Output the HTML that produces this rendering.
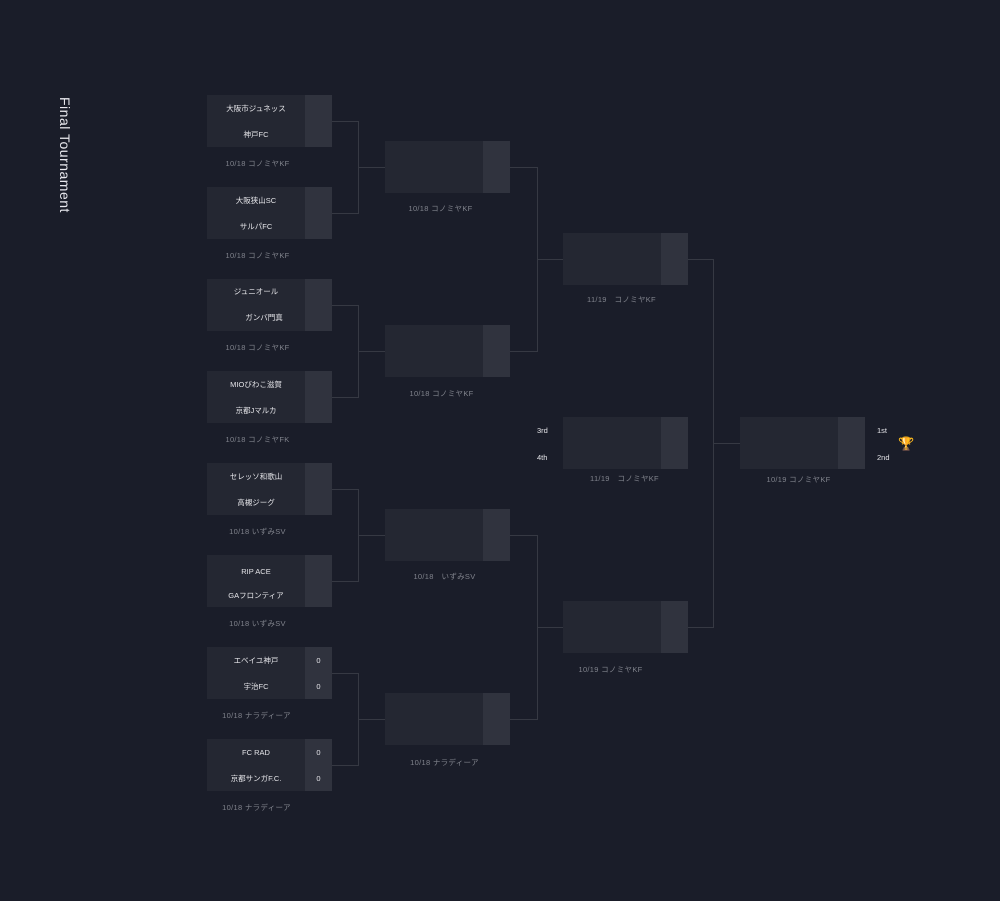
<!DOCTYPE html>
<html><head><meta charset="utf-8"><style>
body{margin:0;width:1000px;height:901px;background:#1a1d29;position:relative;overflow:hidden;font-family:"Liberation Sans","Noto Sans CJK JP",sans-serif}
.b{position:absolute;width:125px;height:52px;background:#242732}
.b .s{position:absolute;right:0;top:0;width:27px;height:52px;background:#30333e}
.t{position:absolute;left:0;width:98px;text-align:center;color:#e4e4e8;font-size:7.5px;line-height:10px}
.sc{position:absolute;left:98px;width:27px;text-align:center;color:#e4e4e8;font-size:7.5px;line-height:10px}
.l{position:absolute;width:125px;text-align:center;color:#80838c;font-size:7.5px;line-height:10px;letter-spacing:.3px}
.p{position:absolute;color:#e4e4e8;font-size:7.5px;line-height:10px}
#title{position:absolute;left:57px;top:97px;color:#e8e8ee;font-size:14px;line-height:15px;letter-spacing:0.5px;transform-origin:0 0;transform:translate(15px,0) rotate(90deg);white-space:nowrap}
</style></head><body>
<div id="title">Final Tournament</div>
<svg width="1000" height="901" style="position:absolute;left:0;top:0" fill="none" stroke="#363943" stroke-width="1">
<path d="M332 121.5H358.5V213.5H332M358.5 167.5H385"/>
<path d="M332 305.5H358.5V397.5H332M358.5 351.5H385"/>
<path d="M332 489.5H358.5V581.5H332M358.5 535.5H385"/>
<path d="M332 673.5H358.5V765.5H332M358.5 719.5H385"/>
<path d="M510 167.5H537.5V351.5H510M537.5 259.5H563"/>
<path d="M510 535.5H537.5V719.5H510M537.5 627.5H563"/>
<path d="M688 259.5H713.5V627.5H688M713.5 443.5H740"/>
</svg>

<div class="b" style="left:207px;top:95px"><div class="s"></div><div class="t" style="top:9px">大阪市ジュネッス</div><div class="t" style="top:35px">神戸FC</div></div>
<div class="l" style="left:195px;top:159px">10/18 コノミヤKF</div>
<div class="b" style="left:207px;top:187px"><div class="s"></div><div class="t" style="top:9px">大阪狭山SC</div><div class="t" style="top:35px">サルパFC</div></div>
<div class="l" style="left:195px;top:251px">10/18 コノミヤKF</div>
<div class="b" style="left:207px;top:279px"><div class="s"></div><div class="t" style="top:8px">ジュニオール</div><div class="t" style="top:34px;left:8px">ガンバ門真</div></div>
<div class="l" style="left:195px;top:343px">10/18 コノミヤKF</div>
<div class="b" style="left:207px;top:371px"><div class="s"></div><div class="t" style="top:9px">MIOびわこ滋賀</div><div class="t" style="top:35px">京都Jマルカ</div></div>
<div class="l" style="left:195px;top:435px">10/18 コノミヤFK</div>
<div class="b" style="left:207px;top:463px"><div class="s"></div><div class="t" style="top:9px">セレッソ和歌山</div><div class="t" style="top:35px">高槻ジーグ</div></div>
<div class="l" style="left:195px;top:527px">10/18 いずみSV</div>
<div class="b" style="left:207px;top:555px"><div class="s"></div><div class="t" style="top:12px">RIP ACE</div><div class="t" style="top:36px">GAフロンティア</div></div>
<div class="l" style="left:195px;top:619px">10/18 いずみSV</div>
<div class="b" style="left:207px;top:647px"><div class="s"></div><div class="t" style="top:9px">エベイユ神戸</div><div class="t" style="top:35px">宇治FC</div><div class="sc" style="top:9px">0</div><div class="sc" style="top:35px">0</div></div>
<div class="l" style="left:194px;top:711px">10/18 ナラディーア</div>
<div class="b" style="left:207px;top:739px"><div class="s"></div><div class="t" style="top:9px">FC RAD</div><div class="t" style="top:35px">京都サンガF.C.</div><div class="sc" style="top:9px">0</div><div class="sc" style="top:35px">0</div></div>
<div class="l" style="left:194px;top:803px">10/18 ナラディーア</div>

<div class="b" style="left:385px;top:141px"><div class="s"></div></div>
<div class="l" style="left:378px;top:204px">10/18 コノミヤKF</div>
<div class="b" style="left:385px;top:325px"><div class="s"></div></div>
<div class="l" style="left:379px;top:389px">10/18 コノミヤKF</div>
<div class="b" style="left:385px;top:509px"><div class="s"></div></div>
<div class="l" style="left:382px;top:572px">10/18　いずみSV</div>
<div class="b" style="left:385px;top:693px"><div class="s"></div></div>
<div class="l" style="left:382px;top:758px">10/18 ナラディーア</div>

<div class="b" style="left:563px;top:233px"><div class="s"></div></div>
<div class="l" style="left:559px;top:295px">11/19　コノミヤKF</div>
<div class="b" style="left:563px;top:417px"><div class="s"></div></div>
<div class="l" style="left:562px;top:474px">11/19　コノミヤKF</div>
<div class="p" style="left:537px;top:426px">3rd</div>
<div class="p" style="left:537px;top:453px">4th</div>
<div class="b" style="left:563px;top:601px"><div class="s"></div></div>
<div class="l" style="left:548px;top:665px">10/19 コノミヤKF</div>

<div class="b" style="left:740px;top:417px"><div class="s"></div></div>
<div class="l" style="left:736px;top:475px">10/19 コノミヤKF</div>
<div class="p" style="left:877px;top:426px">1st</div>
<div class="p" style="left:877px;top:453px">2nd</div>
<div style="position:absolute;left:898px;top:437px;font-size:13px;line-height:14px;color:#d9a21b">🏆</div>
</body></html>
